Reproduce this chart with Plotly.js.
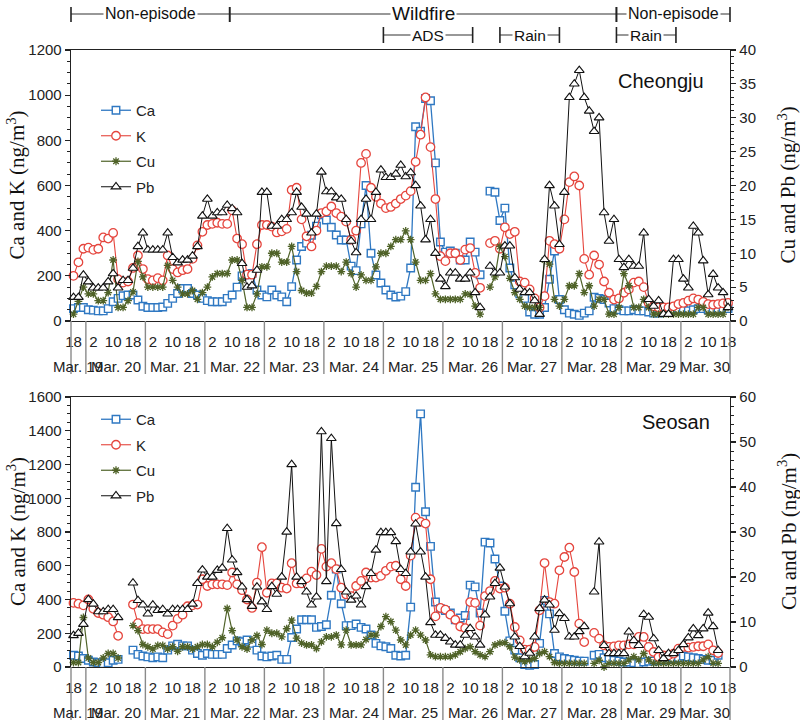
<!DOCTYPE html>
<html>
<head>
<meta charset="utf-8">
<script src="https://cdn.plot.ly/plotly-3.0.1.min.js"></script>
<style>
  html, body { margin: 0; padding: 0; background: #fff; }
  #chart { width: 800px; height: 727px; }
</style>
</head>
<body>
<div id="chart"></div>
<script>
// 2-hour samples; the first one is centred on 19:00, Mar. 19.
// Hours are counted from Mar. 19 00:00.
const firstSampleHour = 19;
const sampleStepHours = 2;

const dayNames = ["Mar. 19", "Mar. 20", "Mar. 21", "Mar. 22", "Mar. 23", "Mar. 24",
                  "Mar. 25", "Mar. 26", "Mar. 27", "Mar. 28", "Mar. 29", "Mar. 30"];
const hourOfDayTicks = [2, 10, 18];

// ---- Cheongju (ng/m3) ----
const cjCa = [
  55, 60, 60,                                                   // Mar. 19
  50, 48, 45, 45, 55, 85, 100, 112, 115, 115, 93, 65,           // Mar. 20
  60, 60, 60, 62, 78, 100, 122, 144, 144, 122, 115, 100,        // Mar. 21
  90, 85, 85, 85, 100, 115, 150, 200, 205, 210, 137, 115,       // Mar. 22
  107, 137, 115, 107, 85, 152, 270, 330, 345, 380, 420, 470,    // Mar. 23
  447, 415, 381, 359, 359, 243, 223, 430, 600, 300, 204, 168,   // Mar. 24
  137, 115, 106, 110, 130, 235, 860, 840, 985, 975, 700, 350,   // Mar. 25
  305, 310, 300, 270, 270, 350, 305, 205, null, 575, 570, 445,  // Mar. 26
  500, 235, 160, 120, 100, 40, 30, 30, 60, 185, 310, 95,        // Mar. 27
  50, 35, 30, 25, 35, 45, 105, 100, 95, 80, 55, 50,             // Mar. 28
  45, 45, 50, 45, 45, 40, 35, 35, 45, 45, 50, 50,               // Mar. 29
  50, 45, 50, 55, 55, 50, 45, 50, 55, 55                        // Mar. 30
];
const cjK = [
  200, 260, 320,
  325, 315, 320, 370, 365, 390, 185, 170, 175, 235, 290, 230,
  185, 180, 190, 180, 290, 230, 215, 225, 230, 275, 335, 395,
  425, 430, 435, 430, 430, 490, 365, 340, 205, 205, 340, 425,
  425, 418, 392, 397, 408, 580, 590, 450, 375, 330, 400, 478,
  485, 507, 478, 462, 440, 360, 400, 700, 740, 590, 550, 520,
  500, 505, 520, 540, 555, 575, 705, 825, 990, 770, 540, 287,
  265, 300, 300, 270, 316, 323, 213, 147, null, 345, 355, 320,
  415, 385, 395, 175, 170, 140, 100, 60, 110, 355, 340, 320,
  450, 615, 640, 600, 275, 205, 290, 250, 175, 125, 95, 100,
  125, 140, 170, 175, 150, 80, 65, 60, 60, 60, 65, 75,
  80, 90, 100, 95, 85, 75, 72, 75, 78, 80
];
const cjCu = [
  1.0, 2.9, 5.0,
  4.0, 4.0, 3.0, 3.0, 4.2, 9.0, 2.0, 2.0, 3.0, 4.3, 8.8, 6.5,
  5.0, 5.0, 5.0, 5.0, 8.2, 6.0, 5.0, 4.0, 4.0, 4.5, 3.2, 4.2,
  5.0, 6.5, 7.0, 7.0, 7.0, 9.0, 9.0, 6.0, 2.0, 2.0, 4.0, 8.0,
  8.0, 10.0, 10.0, 8.7, 8.7, 11.0, 7.3, 4.5, 4.1, 4.1, 5.1, 7.3,
  8.1, 8.1, 8.1, 7.3, 8.7, 7.0, 5.0, 6.8, 6.0, 6.0, 8.0, 10.0,
  10.0, 11.0, 12.0, 12.0, 13.3, 12.0, 8.7, 6.0, 6.0, 7.0, 4.0, 3.2,
  3.2, 3.2, 3.2, 3.2, 4.0, 3.9, 2.2, 1.0, null, 5.0, 6.5, 11.0,
  9.5, 6.3, 4.2, 3.2, 2.2, 2.0, 2.0, 2.0, 9.0, 8.4, 3.2, 2.2,
  3.2, 5.2, 5.2, 7.0, 4.2, 5.2, 2.2, 3.2, 3.2, 1.0, 1.0, 2.0,
  7.0, 5.2, 2.0, 2.0, 3.2, 2.0, 1.0, 1.0, 1.0, 1.0, 1.0, 1.0,
  1.0, 1.0, 1.0, 2.0, 2.0, 1.0, 1.0, 1.0, 1.0, 2.0
];
const cjPb = [
  3.5, 3.5, 6.8,
  5.8, 4.9, 4.9, 4.9, 5.8, 7.0, 4.9, 6.0, 6.0, 7.8, 11.0, 13.0,
  10.5, 10.5, 10.5, 10.5, 13.0, 9.4, 8.6, 9.0, 9.0, 9.6, 11.0, 15.5,
  18.0, 15.5, 16.0, 16.0, 17.1, 16.6, 16.0, 8.5, 5.0, 5.2, 7.5, 19.0,
  19.0, 14.0, 14.0, 15.0, 15.0, 16.0, 19.0, 16.8, 15.8, 13.0, 15.8, 22.0,
  19.1, 19.1, 18.2, 18.0, 15.0, 11.8, 10.1, 15.0, 18.0, 15.0, 19.0, 22.3,
  21.2, 21.2, 21.7, 23.0, 21.3, 21.9, 20.0, 17.0, 12.0, 15.0, 10.0, 6.2,
  5.1, 7.1, 7.1, 6.2, 6.2, 7.1, 4.2, 2.0, null, 8.1, 7.1, 7.1,
  11.1, 11.1, 6.4, 4.7, 4.2, 4.2, 3.0, 1.0, 9.1, 20.0, 17.0, 11.3,
  19.0, 33.0, 35.0, 37.0, 33.0, 31.0, 28.0, 30.0, 16.0, 11.8, 15.0, 9.1,
  7.9, 9.1, 8.1, 8.1, 13.0, 3.2, 2.2, 3.0, 1.0, 1.0, 9.1, 9.1,
  6.2, 4.9, 14.0, 13.0, 8.9, 3.9, 6.9, 4.9, 4.2, 2.0
];

// ---- Seosan (ng/m3) ----
const ssCa = [
  70, 65, 50,
  40, 30, 25, 20, 25, 40, 45, null, null, 100, 75, 65,
  60, 55, 60, 55, 100, 125, 135, 125, 125, 100, 80, 70,
  80, 75, 75, 75, 110, 130, 155, 150, 160, 140, 100, 65,
  60, 65, 70, 45, 45, 175, 225, 280, 280, 280, 235, 240,
  250, 425, 580, 375, 245, 245, 255, 235, 225, 190, 140, 125,
  120, 110, 70, 65, 70, 355, 1065, 1500, 920, 715, 385, 345,
  335, 320, 280, 290, 305, 485, 475, 320, 740, 735, 640, 480,
  330, 155, 100, 55, 15, 10, 15, 140, 395, 315, 80, 60,
  50, 45, 40, 35, 35, null, 70, 75, 55, 45, 40, 35,
  30, 30, 25, 20, 30, 35, 35, 40, 40, 45, 50, 55,
  65, 60, 55, 50, 45, 40, 40, 70, null, null
];
const ssK = [
  380, 375, 365,
  400, 345, 320, 310, 295, 270, 185, null, null, 370, 260, 225,
  225, 225, 225, 205, 195, 245, 285, 310, 360, 365, 370, 520,
  480, 490, 490, 490, 485, 560, 490, 455, 400, 350, 500, 710,
  440, 495, 495, 470, 465, 615, 495, 495, 525, 565, 545, 700,
  595, 615, 580, 470, 430, 420, 480, 510, 560, 530, 530, 540,
  570, 595, 600, 520, 480, 660, 885, 860, 850, 520, 300, 350,
  340, 310, 280, 240, 230, 385, 380, 245, 420, 450, 510, 465,
  470, 375, 237, 158, 103, 103, 119, 336, 616, 385, 375, 573,
  652, 707, 563, 257, 148, null, 202, 168, 128, 119, 122, 128,
  128, 134, 134, 178, 178, 119, 89, 59, 69, 69, 79, 109,
  119, 115, 119, 123, 123, 134, 99, 83, null, null
];
const ssCu = [
  1.0, 1.0, 11.0,
  2.0, 1.0, 1.0, 2.0, 3.0, 3.0, 2.0, null, null, 9.2, 8.1, 5.0,
  4.5, 4.0, 4.8, 4.8, 4.0, 4.5, 3.5, 4.5, 4.5, 4.0, 4.5, 5.0,
  5.0, 4.5, 5.5, 6.5, 13.0, 8.1, 6.0, 4.5, 4.0, 6.0, 7.0, 5.0,
  8.2, 7.5, 7.5, 6.7, 8.5, 10.4, 6.4, 5.3, 4.9, 4.9, 4.1, 5.6,
  6.7, 6.7, 7.1, 4.9, 8.2, 4.9, 4.9, 4.9, 6.1, 7.1, 7.1, 9.0,
  11.2, 10.1, 8.2, 6.0, 4.9, 7.1, 8.2, 7.1, 6.0, 2.7, 2.3, 2.3,
  2.3, 2.3, 2.7, 3.4, 4.1, 4.5, 3.4, 2.7, 2.3, 3.4, 4.9, 5.3,
  5.4, 4.5, 2.2, 1.6, 1.2, 1.6, 1.9, 3.0, 3.4, 2.3, 1.0, 0.8,
  0.8, 0.8, 0.8, 0.8, 0.8, null, 0.8, 1.5, 0.0, 0.8, 0.8, 0.8,
  0.8, 1.6, 2.3, 1.6, 3.0, 1.6, 0.8, 0.8, 0.8, 0.8, 0.8, 0.8,
  0.8, 0.8, 0.8, 0.8, 1.6, 2.3, 0.8, 0.8, null, null
];
const ssPb = [
  7.0, 7.5, 9.5,
  15.0, 14.0, 12.3, 12.3, 12.8, 12.8, 11.0, null, null, 18.7, 14.8, 13.8,
  11.8, 13.8, 12.6, 12.8, 11.8, 12.8, 12.8, 12.8, 12.8, 14.0, 18.6, 21.6,
  20.0, 20.0, 21.5, 22.0, 30.8, 23.8, 21.0, 17.8, 15.0, 13.5, 17.8, 14.5,
  12.8, 17.9, 16.2, 20.0, 30.0, 45.0, 20.0, 19.0, 16.7, 13.8, 15.6, 52.3,
  19.0, 50.8, 31.9, 21.7, 16.7, 14.9, 15.8, 13.8, 17.9, 20.8, 26.0, 29.9,
  29.9, 29.9, 27.9, 21.7, 20.8, 25.6, 31.8, 25.6, 20.0, 9.9, 7.1, 7.1,
  6.4, 5.6, 4.9, 4.9, 7.1, 8.6, 6.7, 4.9, 11.6, 15.6, 18.6, 22.0,
  17.8, 14.1, 6.7, 4.6, 2.3, 3.1, 6.7, 13.0, 14.9, 13.8, 8.2, 11.9,
  10.8, 6.7, 6.7, 7.9, 9.0, null, 16.7, 27.8, 4.8, 3.0, 3.0, 3.0,
  3.0, 7.8, 5.9, 4.8, 11.7, 11.1, 6.3, 3.7, 1.9, 3.0, 3.0, 3.7,
  5.0, 6.5, 8.5, 7.0, 8.5, 12.0, 9.0, 3.7, null, null
];

// Event periods shown above the charts (hours from Mar. 19 00:00)
const periodNames  = ["Non-episode", "Wildfire", "Non-episode", "ADS", "Rain", "Rain"];
const periodStarts = [18, 82, 238, 144, 191, 238];
const periodEnds   = [82, 238, 283.8, 180, 215, 262];
const periodRows   = [0, 0, 0, 1, 1, 1];

// ---------------- layout geometry (pixels) ----------------
const W = 800, H = 727;
const plotLeft = 71, plotRight = 730;
const panels = [
  { top: 50,  bottom: 321, name: "Cheongju", nameX: 661, nameY: 81 },
  { top: 397, bottom: 667, name: "Seosan",   nameX: 676, nameY: 422 }
];
const xRange = [18, 283.8];
const px = v => v / W;
const py = v => 1 - v / H;
const hx = h => px(plotLeft + (h - xRange[0]) / (xRange[1] - xRange[0]) * (plotRight - plotLeft));

const sampleHours = cjCa.map((_, i) => firstSampleHour + sampleStepHours * i);

const FONT = "Liberation Sans, Arial, sans-serif";
const SERIF = "Liberation Serif, Times New Roman, serif";

const style = {
  Ca: { color: "#2f78c2", symbol: "square",        size: 7.5, lw: 1.3, mlw: 1.4, fill: "#ffffff" },
  K:  { color: "#e5453d", symbol: "circle",        size: 8.5, lw: 1.1, mlw: 1.3, fill: "#ffffff" },
  Cu: { color: "#4f6228", symbol: "asterisk-open", size: 6.5, lw: 1.2, mlw: 1.3, fill: "#4f6228" },
  Pb: { color: "#111111", symbol: "triangle-up",   size: 8.5, lw: 1.0, mlw: 1.1, fill: "#ffffff" }
};

function series(name, values, xa, ya, legendId) {
  const s = style[name];
  return {
    type: "scatter", mode: "lines+markers", name: name,
    x: sampleHours, y: values, xaxis: xa, yaxis: ya,
    legend: legendId, legendgroup: legendId + name,
    line: { color: s.color, width: s.lw },
    marker: { symbol: s.symbol, size: s.size, color: s.fill,
              line: { color: s.color, width: s.mlw } },
    cliponaxis: false, connectgaps: false, hoverinfo: "skip"
  };
}

const data = [
  series("Ca", cjCa, "x", "y", "legend"),
  series("K",  cjK,  "x", "y", "legend"),
  series("Cu", cjCu, "x", "y2", "legend"),
  series("Pb", cjPb, "x", "y2", "legend"),
  series("Ca", ssCa, "x2", "y3", "legend2"),
  series("K",  ssK,  "x2", "y3", "legend2"),
  series("Cu", ssCu, "x2", "y4", "legend2"),
  series("Pb", ssPb, "x2", "y4", "legend2")
];

// hour-of-day tick labels, placed at the sample centre of each labelled hour
const tickVals = [], tickText = [];
dayNames.forEach((_, d) => {
  hourOfDayTicks.forEach(hod => {
    const h = 24 * d + hod + 1;
    if (h >= xRange[0] && h <= xRange[1]) { tickVals.push(h); tickText.push(String(hod)); }
  });
});

function xAxis(anchor) {
  return {
    domain: [px(plotLeft), px(plotRight)], range: xRange, anchor: anchor,
    showline: true, linecolor: "#222", linewidth: 1.3, mirror: true,
    ticks: "outside", ticklen: 7, tickcolor: "rgba(0,0,0,0)",
    tickmode: "array", tickvals: tickVals, ticktext: tickText,
    tickfont: { family: FONT, size: 15, color: "#222" },
    showgrid: false, zeroline: false, fixedrange: true
  };
}
function yAxis(range, dtick, minor, extra) {
  return Object.assign({
    range: range, tick0: 0, dtick: dtick,
    ticks: "outside", ticklen: 5, tickwidth: 1.2, tickcolor: "#222",
    minor: { dtick: minor, ticks: "outside", ticklen: 3, tickwidth: 1, tickcolor: "#222" },
    showline: true, linecolor: "#222", linewidth: 1.3,
    tickfont: { family: FONT, size: 15, color: "#222" },
    showgrid: false, zeroline: false, fixedrange: true
  }, extra);
}

const shapes = [];
const annotations = [];

panels.forEach(p => {
  // day separators running down through the tick and date labels
  const bounds = [xRange[0]];
  for (let d = 1; d < dayNames.length; d++) bounds.push(24 * d);
  bounds.push(xRange[1]);
  bounds.forEach(h => shapes.push({
    type: "line", xref: "paper", yref: "paper",
    x0: hx(h), x1: hx(h), y0: py(p.bottom), y1: py(p.bottom + 53),
    line: { color: "#8a8a8a", width: 1.4 }
  }));
  // date labels centred on the visible part of each day
  dayNames.forEach((name, d) => {
    const a = Math.max(xRange[0], 24 * d), b = Math.min(xRange[1], 24 * d + 24);
    annotations.push({
      xref: "paper", yref: "paper", x: hx((a + b) / 2), y: py(p.bottom + 45),
      text: name, showarrow: false, xanchor: "center", yanchor: "middle",
      font: { family: FONT, size: 15, color: "#222" }
    });
  });
  // site name
  annotations.push({
    xref: "paper", yref: "paper", x: px(p.nameX), y: py(p.nameY),
    text: p.name, showarrow: false, xanchor: "center", yanchor: "middle",
    font: { family: FONT, size: 20, color: "#111" }
  });
  // axis titles
  const mid = py((p.top + p.bottom) / 2);
  annotations.push({
    xref: "paper", yref: "paper", x: px(16), y: mid, textangle: -90,
    text: "Ca and K (ng/m<sup>3</sup>)", showarrow: false,
    xanchor: "center", yanchor: "middle",
    font: { family: SERIF, size: 21, color: "#111" }
  });
  annotations.push({
    xref: "paper", yref: "paper", x: px(787), y: mid, textangle: -90,
    text: "Cu and Pb (ng/m<sup>3</sup>)", showarrow: false,
    xanchor: "center", yanchor: "middle",
    font: { family: SERIF, size: 21, color: "#111" }
  });
});

// period brackets above the top chart
const rowY = [14, 35];
const rowTick = [[7, 22], [27, 43]];
const periodFont = { "Non-episode": 16, "Wildfire": 19, "ADS": 15.5, "Rain": 15.5 };
periodNames.forEach((name, i) => {
  const r = periodRows[i];
  const x0 = hx(periodStarts[i]), x1 = hx(periodEnds[i]);
  shapes.push({ type: "line", xref: "paper", yref: "paper", x0: x0, x1: x1,
                y0: py(rowY[r]), y1: py(rowY[r]), line: { color: "#333", width: 1.2 } });
  [x0, x1].forEach(x => shapes.push({
    type: "line", xref: "paper", yref: "paper", x0: x, x1: x,
    y0: py(rowTick[r][0]), y1: py(rowTick[r][1]), line: { color: "#222", width: 1.6 }
  }));
  annotations.push({
    xref: "paper", yref: "paper", x: (x0 + x1) / 2, y: py(rowY[r]),
    text: name, showarrow: false, xanchor: "center", yanchor: "middle",
    bgcolor: "#ffffff", borderpad: 1,
    font: { family: FONT, size: periodFont[name], color: "#111" }
  });
});

function legendAt(topPx) {
  return {
    x: px(96), y: py(topPx), xanchor: "left", yanchor: "top",
    bgcolor: "rgba(0,0,0,0)", borderwidth: 0,
    traceorder: "grouped", tracegroupgap: 3, itemwidth: 30,
    font: { family: FONT, size: 15, color: "#222" }
  };
}

const layout = {
  width: W, height: H,
  margin: { l: 0, r: 0, t: 0, b: 0, pad: 0 },
  paper_bgcolor: "#ffffff", plot_bgcolor: "#ffffff",
  showlegend: true,
  legend: legendAt(94),
  legend2: legendAt(403),
  xaxis: xAxis("y"),
  xaxis2: xAxis("y3"),
  yaxis:  yAxis([0, 1200], 200, 50, { domain: [py(panels[0].bottom), py(panels[0].top)], anchor: "x" }),
  yaxis2: yAxis([0, 40], 5, 1, { overlaying: "y", side: "right", anchor: "x" }),
  yaxis3: yAxis([0, 1600], 200, 50, { domain: [py(panels[1].bottom), py(panels[1].top)], anchor: "x2" }),
  yaxis4: yAxis([0, 60], 10, 2, { overlaying: "y3", side: "right", anchor: "x2" }),
  shapes: shapes,
  annotations: annotations
};

Plotly.newPlot("chart", data, layout, { displayModeBar: false, staticPlot: true });
</script>
</body>
</html>
